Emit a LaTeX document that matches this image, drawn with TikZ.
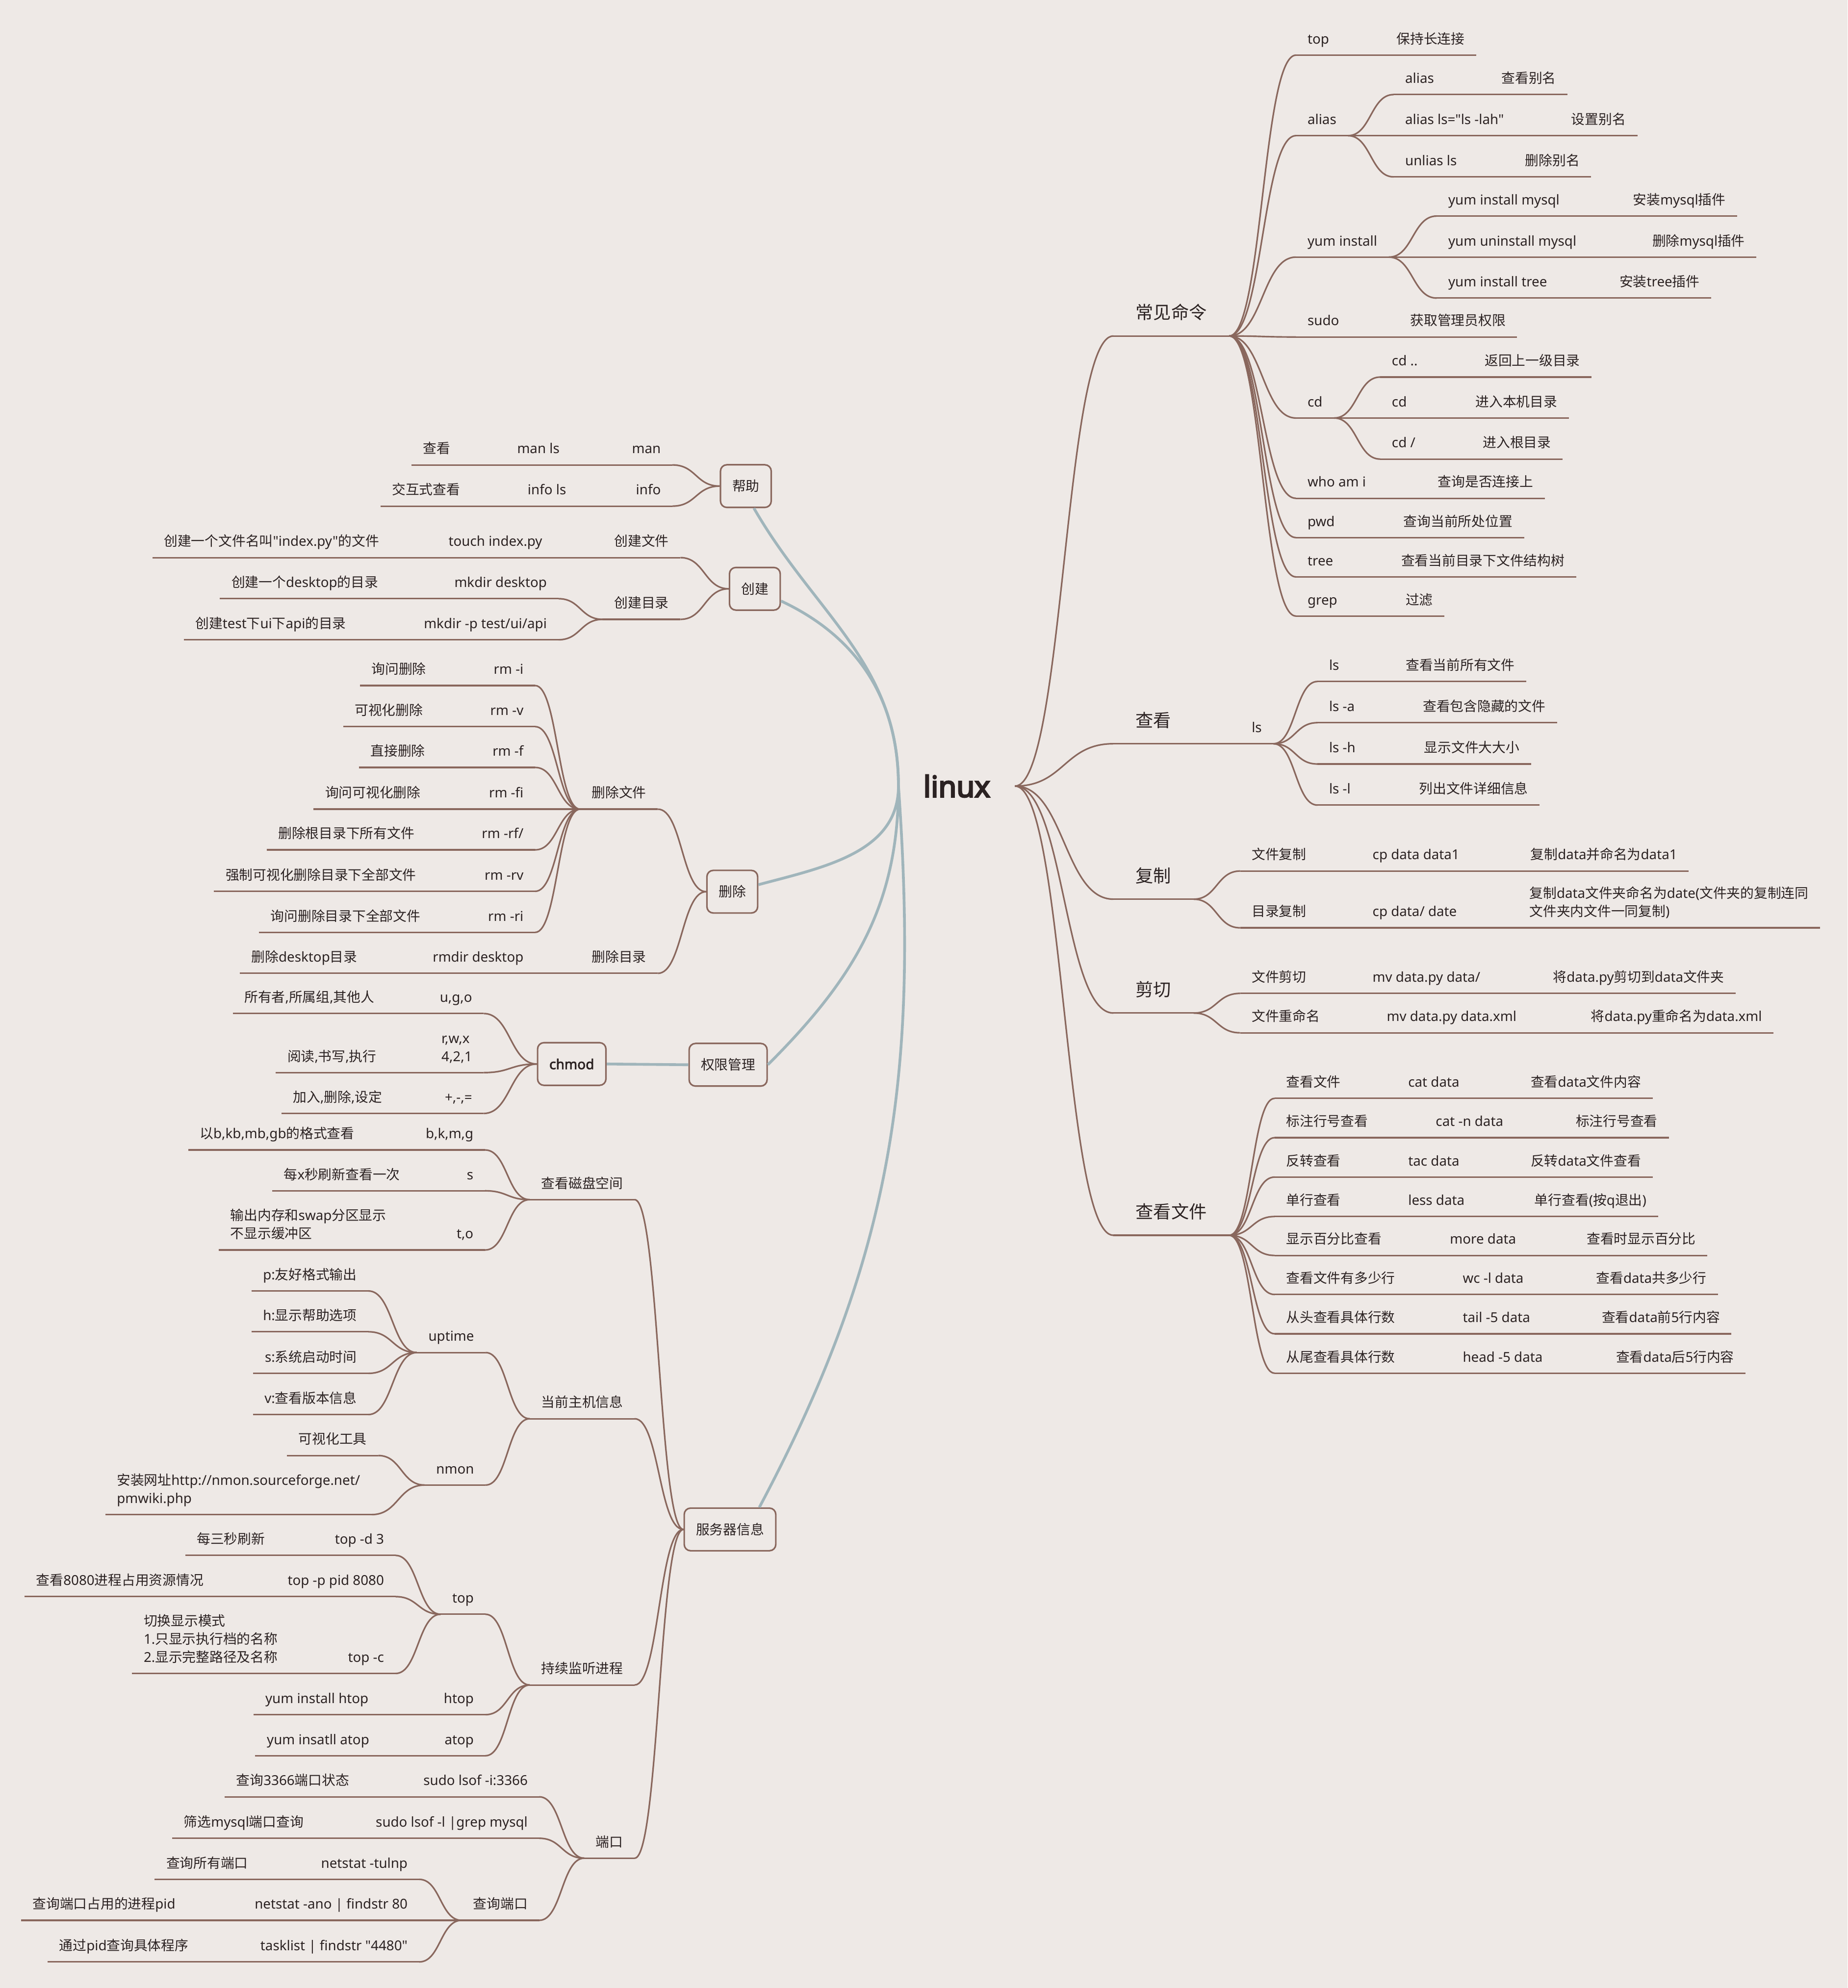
\documentclass[tikz,border=0pt]{standalone}
\usepackage{fontspec}
\setmainfont{Noto Sans}[Ligatures=TeXOff]
\newfontfamily\cjkfont{Noto Sans CJK SC}[Ligatures=TeXOff]
\newfontfamily\boldsans{Noto Sans}[FakeBold=2.6, Ligatures=TeXOff]
\newfontfamily\rootsans{Noto Sans}[FakeBold=4.5, Ligatures=TeXOff]
% switch to the CJK face for Han characters
\XeTeXinterchartokenstate=1
\chardef\cjkcls=10
\newcount\cjkcnt
\cjkcnt="3000 \loop\ifnum\cjkcnt<"3040 \XeTeXcharclass\cjkcnt=\cjkcls \advance\cjkcnt by 1 \repeat
\cjkcnt="4E00 \loop\ifnum\cjkcnt<"A000 \XeTeXcharclass\cjkcnt=\cjkcls \advance\cjkcnt by 1 \repeat
\cjkcnt="FF00 \loop\ifnum\cjkcnt<"FFF0 \XeTeXcharclass\cjkcnt=\cjkcls \advance\cjkcnt by 1 \repeat
\XeTeXinterchartoks 0 \cjkcls = {\cjkfont}
\XeTeXinterchartoks 4095 \cjkcls = {\cjkfont}
\XeTeXinterchartoks \cjkcls 0 = {\rmfamily}
\XeTeXinterchartoks \cjkcls 4095 = {\rmfamily}
\usepackage{tikz}
\usetikzlibrary{calc}

\definecolor{paper}{RGB}{238,233,230}
\definecolor{branch}{RGB}{137,103,93}
\definecolor{trunkblue}{RGB}{160,181,187}
\definecolor{ink}{RGB}{43,34,34}

\tikzset{
  brline/.style={draw=branch, line width=0.9pt},
  underline/.style={append after command={(\tikzlastnode.south west) edge[brline] (\tikzlastnode.south east)}},
  leaf/.style={font=\fontsize{7.9}{10.5}\selectfont, text=ink, inner xsep=0.23cm, inner ysep=0.12cm, text depth=0.3em, underline},
  leafw/.style={leaf, anchor=south west},
  leafe/.style={leaf, anchor=south east},
  topic/.style={font=\fontsize{10.3}{13}\selectfont, text=ink, inner xsep=0.45cm, inner ysep=0.23cm, text depth=0.3em, underline, anchor=south west},
  box/.style={draw=branch, line width=0.9pt, rounded corners=0.13cm, fill=paper, font=\fontsize{7.9}{10}\selectfont, text=ink, minimum height=0.87cm, inner xsep=0.24cm, text height=0.8em, text depth=0.2em},
  trunk/.style={draw=trunkblue, line width=1.6pt},
  link/.style={brline, to path={let \p1=(\tikztostart), \p2=(\tikztotarget) in .. controls ({0.5*\x1+0.5*\x2},\y1) and ({0.5*\x1+0.5*\x2},\y2) .. (\tikztotarget)}},
}

\begin{document}
\begin{tikzpicture}[x=0.02586cm, y=-0.02586cm]
  \fill[paper] (0,0) rectangle (1457,1568);
  \useasboundingbox (0,0) rectangle (1457,1568);

  \node[font=\rootsans\fontsize{17}{20}\selectfont, text=ink, inner xsep=0.5cm] (linux) at (754.5,620) {linux};

  % ---- right side ----
  \node[topic] (cmd) at (878,265) {常见命令};
  \node[topic] (view) at (878,586.6) {查看};
  \node[topic] (copy) at (878,709.2) {复制};
  \node[topic] (cut) at (878,799) {剪切};
  \node[topic] (cat) at (878,974.3) {查看文件};
  \foreach \nm in {cmd,view,copy,cut,cat}
    \draw[link] (linux.east) to (\nm.south west);

  % 常见命令
  \node[leafw] (alias) at (1022,107) {alias};
  \node[leafw] (yum) at (1022,202.8) {yum install};
  \node[leafw] (cd) at (1022,329.7) {cd};
  \foreach \nm/\yy/\ta/\xb/\tb in {top/43.5/top/1092.2/保持长连接, sudo/265.8/sudo/1103/获取管理员权限, who/393/{who am i}/1124.8/查询是否连接上, pwd/424/pwd/1097.7/查询当前所处位置, tree/455/tree/1095.9/查看当前目录下文件结构树, grep/485.9/grep/1099.4/过滤} {
    \node[leafw] (\nm) at (1022,\yy) {\ta};
    \node[leafw] (\nm-d) at (\xb,\yy) {\tb};
    \draw[link] (\nm.south east) to (\nm-d.south west);
  }
  \foreach \nm in {top,alias,yum,sudo,cd,who,pwd,tree,grep}
    \draw[link] (cmd.south east) to (\nm.south west);

  \foreach \nm/\xa/\yy/\ta/\xb/\tb in {aliasA/1099/74.6/alias/1175/查看别名, aliasB/1099/107/{alias ls="ls -lah"}/1230/设置别名, aliasC/1099/139.5/{unlias ls}/1193.6/删除别名, yumA/1133/170.4/{yum install mysql}/1278.7/安装mysql插件, yumB/1133/202.8/{yum uninstall mysql}/1293.9/删除mysql插件, yumC/1133/235.1/{yum install tree}/1268/安装tree插件, cdA/1088.5/297.4/{cd ..}/1161.7/返回上一级目录, cdB/1088.5/329.7/cd/1154.5/进入本机目录, cdC/1088.5/362.1/{cd /}/1160.3/进入根目录, lsA/1039/537.5/ls/1099.5/查看当前所有文件, lsB/1039/570/{ls -a}/1113/查看包含隐藏的文件, lsC/1039/602.6/{ls -h}/1114/显示文件大大小, lsD/1039/635/{ls -l}/1110/列出文件详细信息} {
    \node[leafw] (\nm) at (\xa,\yy) {\ta};
    \node[leafw] (\nm-d) at (\xb,\yy) {\tb};
    \draw[link] (\nm.south east) to (\nm-d.south west);
  }
  \foreach \nm in {aliasA,aliasB,aliasC} \draw[link] (alias.south east) to (\nm.south west);
  \foreach \nm in {yumA,yumB,yumC} \draw[link] (yum.south east) to (\nm.south west);
  \foreach \nm in {cdA,cdB,cdC} \draw[link] (cd.south east) to (\nm.south west);

  % 查看
  \node[leafw] (ls) at (978,586.6) {ls};
  \draw[link] (view.south east) to (ls.south west);
  \foreach \nm in {lsA,lsB,lsC,lsD} \draw[link] (ls.south east) to (\nm.south west);

  % 复制 / 剪切
  \foreach \pa/\nm/\yy/\ta/\xb/\tb/\xc/\tc in {copy/cpFile/687/文件复制/1073.3/{cp data data1}/1197.9/复制data并命名为data1, cut/mvFile/783.5/文件剪切/1073.3/{mv data.py data/}/1215.6/将data.py剪切到data文件夹, cut/mvName/814.6/文件重命名/1084.5/{mv data.py data.xml}/1245.5/将data.py重命名为data.xml} {
    \node[leafw] (\nm) at (978,\yy) {\ta};
    \node[leafw] (\nm-c) at (\xb,\yy) {\tb};
    \node[leafw] (\nm-d) at (\xc,\yy) {\tc};
    \draw[link] (\pa.south east) to (\nm.south west);
    \draw[link] (\nm.south east) to (\nm-c.south west);
    \draw[link] (\nm-c.south east) to (\nm-d.south west);
  }
  \node[leafw] (cpDir) at (978,731.8) {目录复制};
  \node[leafw] (cpDir-c) at (1073.3,731.8) {cp data/ date};
  \node[leafw, align=left] (cpDir-d) at (1197,731.8) {复制data文件夹命名为date(文件夹的复制连同\\文件夹内文件一同复制)};
  \draw[link] (copy.south east) to (cpDir.south west);
  \draw[link] (cpDir.south east) to (cpDir-c.south west);
  \draw[link] (cpDir-c.south east) to (cpDir-d.south west);

  % 查看文件
  \foreach \i/\yy/\ta/\xb/\tb/\xc/\tc in {1/866.3/查看文件/1101.4/{cat data}/1198/查看data文件内容, 2/897.3/标注行号查看/1123.1/{cat -n data}/1233.6/标注行号查看, 3/928.4/反转查看/1101.4/{tac data}/1198/反转data文件查看, 4/959.5/单行查看/1101.4/{less data}/1201/单行查看(按q退出), 5/990.2/显示百分比查看/1134.3/{more data}/1242.2/查看时显示百分比, 6/1021/查看文件有多少行/1144.4/{wc -l data}/1249.6/查看data共多少行, 7/1052/从头查看具体行数/1144.4/{tail -5 data}/1254.1/查看data前5行内容, 8/1083.1/从尾查看具体行数/1144.4/{head -5 data}/1265.3/查看data后5行内容} {
    \node[leafw] (fa\i) at (1005.2,\yy) {\ta};
    \node[leafw] (fb\i) at (\xb,\yy) {\tb};
    \node[leafw] (fc\i) at (\xc,\yy) {\tc};
    \draw[link] (cat.south east) to (fa\i.south west);
    \draw[link] (fa\i.south east) to (fb\i.south west);
    \draw[link] (fb\i.south east) to (fc\i.south west);
  }

  % ---- left side ----
  \node[box] (help) at (588.2,383.4) {帮助};
  \node[box] (make) at (595.3,464.4) {创建};
  \node[box] (del) at (577.5,703.3) {删除};
  \node[box] (perm) at (574.2,839.8) {权限管理};
  \node[box, font=\boldsans\fontsize{8}{10}\selectfont] (chmod) at (450.9,839.2) {chmod};
  \node[box] (srv) at (575.7,1206.3) {服务器信息};

  \draw[trunk] (help.-70) to[out=-60, in=90] (linux.west);
  \draw[trunk] (make.-25) to[out=-25, in=90] (linux.west);
  \draw[trunk] (del.15) to[out=15, in=-90] (linux.west);
  \draw[trunk] (perm.east) to[out=45, in=-90] (linux.west);
  \draw[trunk] (srv.37) to[out=62, in=-86] (linux.west);
  \draw[trunk] (chmod.east) -- (perm.west);

  % 帮助
  \node[leafe] (man) at (530.3,366.7) {man};
  \node[leafw] (man-c) at (398.7,366.7) {man ls};
  \node[leafw] (man-d) at (324.4,366.7) {查看};
  \node[leafe] (info) at (530.3,399.2) {info};
  \node[leafw] (info-c) at (407,399.2) {info ls};
  \node[leafw] (info-d) at (300,399.2) {交互式查看};
  \foreach \nm in {man,info} {
    \draw[link] (help.west) to (\nm.south east);
    \draw[link] (\nm.south west) to (\nm-c.south east);
    \draw[link] (\nm-c.south west) to (\nm-d.south east);
  }

  % 创建
  \node[leafe] (mkFile) at (536.6,439.8) {创建文件};
  \node[leafw] (mkFile-c) at (344.6,439.8) {touch index.py};
  \node[leafw] (mkFile-d) at (120.2,439.8) {创建一个文件名叫"index.py"的文件};
  \node[leafe] (mkDir) at (536.6,488.5) {创建目录};
  \node[leafe] (mkDesk) at (440.4,472.2) {mkdir desktop};
  \node[leafw] (mkDesk-d) at (173.4,472.2) {创建一个desktop的目录};
  \node[leafe] (mkApi) at (440.4,504.6) {mkdir -p test/ui/api};
  \node[leafw] (mkApi-d) at (144.9,504.6) {创建test下ui下api的目录};
  \draw[link] (make.west) to (mkFile.south east);
  \draw[link] (mkFile.south west) to (mkFile-c.south east);
  \draw[link] (mkFile-c.south west) to (mkFile-d.south east);
  \draw[link] (make.west) to (mkDir.south east);
  \foreach \nm in {mkDesk,mkApi} {
    \draw[link] (mkDir.south west) to (\nm.south east);
    \draw[link] (\nm.south west) to (\nm-d.south east);
  }

  % 删除
  \node[leafe] (delFile) at (518.8,638.2) {删除文件};
  \node[leafe] (delDir) at (518.8,767.7) {删除目录};
  \draw[link] (del.west) to (delFile.south east);
  \draw[link] (del.west) to (delDir.south east);
  \foreach \nm/\yy/\ta/\xb/\tb in {rmI/540.7/{rm -i}/283.9/询问删除, rmV/573.1/{rm -v}/270.6/可视化删除, rmF/605.3/{rm -f}/283.1/直接删除, rmFI/638.2/{rm -fi}/247.3/询问可视化删除, rmRF/670.3/{rm -rf/}/210.3/删除根目录下所有文件, rmRV/703/{rm -rv}/168.8/强制可视化删除目录下全部文件, rmRI/735.4/{rm -ri}/204.3/询问删除目录下全部文件} {
    \node[leafe] (\nm) at (422,\yy) {\ta};
    \node[leafw] (\nm-d) at (\xb,\yy) {\tb};
    \draw[link] (delFile.south west) to (\nm.south east);
    \draw[link] (\nm.south west) to (\nm-d.south east);
  }
  \node[leafe] (rmdir) at (422,767.7) {rmdir desktop};
  \node[leafw] (rmdir-d) at (189.1,767.7) {删除desktop目录};
  \draw[link] (delDir.south west) to (rmdir.south east);
  \draw[link] (rmdir.south west) to (rmdir-d.south east);

  % 权限管理
  \node[leafe] (ugo) at (381.5,799.4) {u,g,o};
  \node[leafw] (ugo-d) at (183.6,799.4) {所有者,所属组,其他人};
  \node[leafe, align=left] (rwx) at (381.5,846) {r,w,x\\4,2,1};
  \node[leafw] (rwx-d) at (217.5,846) {阅读,书写,执行};
  \node[leafe] (pmq) at (381.5,878.2) {+,-,=};
  \node[leafw] (pmq-d) at (222,878.2) {加入,删除,设定};
  \foreach \nm in {ugo,rwx,pmq} {
    \draw[link] (chmod.west) to (\nm.south east);
    \draw[link] (\nm.south west) to (\nm-d.south east);
  }

  % 服务器信息
  \node[leafe] (disk) at (500.5,946.2) {查看磁盘空间};
  \node[leafe] (host) at (500.5,1119) {当前主机信息};
  \node[leafe] (proc) at (500.5,1329) {持续监听进程};
  \node[leafe] (port) at (500.5,1465.6) {端口};
  \foreach \nm in {disk,host,proc,port} \draw[link] (srv.west) to (\nm.south east);

  \node[leafe] (bkmg) at (382.5,907) {b,k,m,g};
  \node[leafw] (bkmg-d) at (148.4,907) {以b,kb,mb,gb的格式查看};
  \node[leafe] (sec) at (382.5,939.2) {s};
  \node[leafw] (sec-d) at (214.7,939.2) {每x秒刷新查看一次};
  \node[leafe] (tcol) at (382.5,985.9) {t,o};
  \node[leafw, align=left] (tcol-d) at (172.6,985.9) {输出内存和swap分区显示\\不显示缓冲区};
  \foreach \nm in {bkmg,sec,tcol} {
    \draw[link] (disk.south west) to (\nm.south east);
    \draw[link] (\nm.south west) to (\nm-d.south east);
  }

  \node[leafe] (uptime) at (383,1066.8) {uptime};
  \node[leafe] (nmon) at (383,1171.3) {nmon};
  \draw[link] (host.south west) to (uptime.south east);
  \draw[link] (host.south west) to (nmon.south east);
  \foreach \nm/\yy/\ta in {upP/1018.2/p:友好格式输出, upH/1050.4/h:显示帮助选项, upS/1083.2/s:系统启动时间, upV/1115.7/v:查看版本信息} {
    \node[leafe] (\nm) at (290.5,\yy) {\ta};
    \draw[link] (uptime.south west) to (\nm.south east);
  }
  \node[leafe] (nmonA) at (298.3,1148) {可视化工具};
  \node[leafw, align=left] (nmonB) at (83,1194.6) {安装网址http://nmon.sourceforge.net/\\pmwiki.php};
  \draw[link] (nmon.south west) to (nmonA.south east);
  \draw[link] (nmon.south west) to (nmonB.south east);

  \node[leafe] (ptop) at (382.8,1273.2) {top};
  \node[leafe] (ptopD) at (312,1226.8) {top -d 3};
  \node[leafw] (ptopD-d) at (146.1,1226.8) {每三秒刷新};
  \node[leafe] (ptopP) at (312,1259.3) {top -p pid 8080};
  \node[leafw] (ptopP-d) at (19.4,1259.3) {查看8080进程占用资源情况};
  \node[leafe] (ptopC) at (312,1319.9) {top -c};
  \node[leafw, align=left] (ptopC-d) at (104.2,1319.9) {切换显示模式\\1.只显示执行档的名称\\2.显示完整路径及名称};
  \node[leafe] (htop) at (382.8,1352.4) {htop};
  \node[leafw] (htop-d) at (200.1,1352.4) {yum install htop};
  \node[leafe] (atop) at (382.8,1384.8) {atop};
  \node[leafw] (atop-d) at (201.3,1384.8) {yum insatll atop};
  \foreach \nm in {ptop,htop,atop} {
    \draw[link] (proc.south west) to (\nm.south east);
  }
  \foreach \nm in {ptopD,ptopP,ptopC} {
    \draw[link] (ptop.south west) to (\nm.south east);
    \draw[link] (\nm.south west) to (\nm-d.south east);
  }
  \draw[link] (htop.south west) to (htop-d.south east);
  \draw[link] (atop.south west) to (atop-d.south east);

  \node[leafe] (lsof) at (425.3,1417.2) {sudo lsof -i:3366};
  \node[leafw] (lsof-d) at (177.2,1417.2) {查询3366端口状态};
  \node[leafe] (grepm) at (425.3,1449.9) {sudo lsof -l |grep mysql};
  \node[leafw] (grepm-d) at (135.8,1449.9) {筛选mysql端口查询};
  \node[leafe] (qport) at (425.3,1514.6) {查询端口};
  \foreach \nm in {lsof,grepm} {
    \draw[link] (port.south west) to (\nm.south east);
    \draw[link] (\nm.south west) to (\nm-d.south east);
  }
  \draw[link] (port.south west) to (qport.south east);
  \node[leafe] (nsT) at (330.6,1482.3) {netstat -tulnp};
  \node[leafw] (nsT-d) at (122,1482.3) {查询所有端口};
  \node[leafe] (nsA) at (330.6,1514.6) {netstat -ano | findstr 80};
  \node[leafw] (nsA-d) at (16.6,1514.6) {查询端口占用的进程pid};
  \node[leafe] (task) at (330.6,1547.4) {tasklist | findstr "4480"};
  \node[leafw] (task-d) at (37.6,1547.4) {通过pid查询具体程序};
  \foreach \nm in {nsT,nsA,task} {
    \draw[link] (qport.south west) to (\nm.south east);
    \draw[link] (\nm.south west) to (\nm-d.south east);
  }
\end{tikzpicture}
\end{document}
